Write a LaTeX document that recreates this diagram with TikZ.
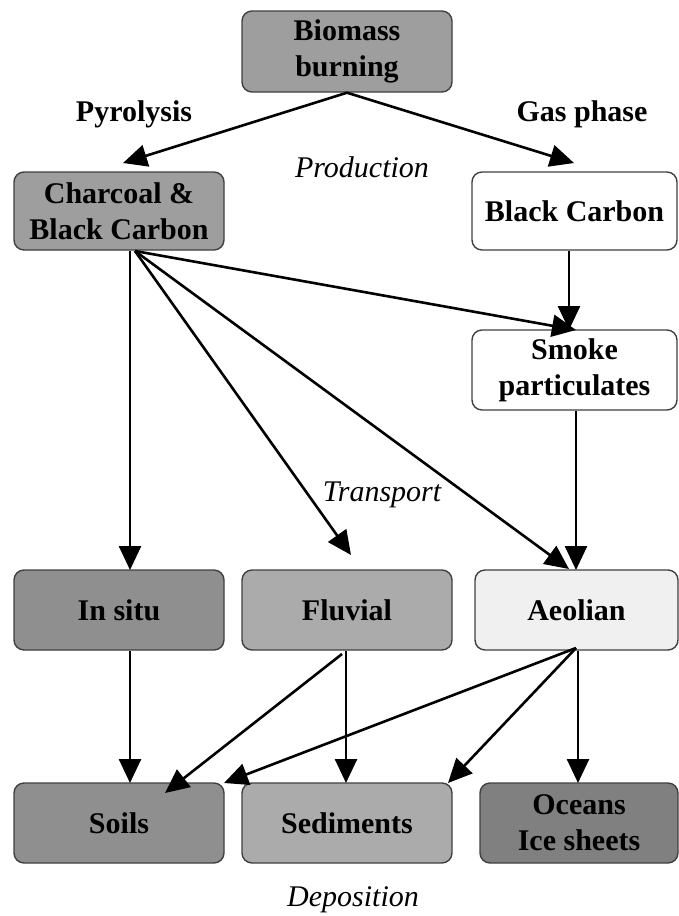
\documentclass[tikz,border=0pt]{standalone}
\usepackage{fontspec}
\setmainfont{Liberation Serif}
\usetikzlibrary{arrows.meta,calc}
\begin{document}
\begin{tikzpicture}[x=1pt,y=-1pt,
  box/.style={draw=black!75,line width=1.4pt,rounded corners=10pt,align=center,
    font=\fontsize{30}{36}\selectfont\bfseries,inner sep=0pt},
  arr/.style={line width=2.6pt,-{Triangle[length=24pt,width=22pt]}},
  lab/.style={font=\fontsize{30}{36}\selectfont\bfseries},
  ital/.style={font=\fontsize{30}{36}\selectfont\itshape}]
\useasboundingbox (0,0) rectangle (679,916);
\definecolor{gA}{gray}{0.62}
\definecolor{gB}{gray}{0.56}
\definecolor{gC}{gray}{0.67}
\definecolor{gD}{gray}{0.94}
\definecolor{gE}{gray}{0.50}
% boxes
\node[box,fill=gA,minimum width=210pt,minimum height=81pt] (bio) at (347,51.5) {Biomass\\burning};
\node[box,fill=gA,minimum width=210pt,minimum height=78pt] (char) at (119,211) {Charcoal \&\\Black Carbon};
\node[box,fill=white,minimum width=205pt,minimum height=78pt] (bc) at (574.5,211) {Black Carbon};
\node[box,fill=white,minimum width=205pt,minimum height=80pt] (smoke) at (574.5,370) {Smoke\\particulates};
\node[box,fill=gB,minimum width=210pt,minimum height=80pt] (insitu) at (119,610) {In situ};
\node[box,fill=gC,minimum width=210pt,minimum height=80pt] (fluvial) at (347,610) {Fluvial};
\node[box,fill=gD,minimum width=203pt,minimum height=80pt] (aeolian) at (576.5,610) {Aeolian};
\node[box,fill=gB,minimum width=210pt,minimum height=80pt] (soils) at (119,823) {Soils};
\node[box,fill=gC,minimum width=210pt,minimum height=80pt] (sed) at (347,823) {Sediments};
\node[box,fill=gE,minimum width=198pt,minimum height=80pt] (oceans) at (579,823) {Oceans\\Ice sheets};
% labels
\node[lab] (pyr) at (134,114) {Pyrolysis};
\node[lab] (gas) at (582,114) {Gas phase};
\node[ital] (prod) at (362,167) {Production};
\node[ital] (trans) at (382,495) {Transport};
\node[ital] (dep) at (353,900) {Deposition};
% coordinates
\coordinate (cs) at (135,251);
\coordinate (tChar) at (123,163);
\coordinate (tBC) at (574,163);
\coordinate (tSm1) at (576,330);
\coordinate (tFl) at (351,555);
\coordinate (tAe) at (569,569);
\coordinate (sIn) at (130,251);
\coordinate (tIn) at (130,570);
\coordinate (sBC) at (569,251);
\coordinate (tSm2) at (569,330);
\coordinate (sSm) at (576,411);
\coordinate (tAe2) at (576,570);
\coordinate (sIn2) at (130,651);
\coordinate (tSo) at (130,783);
\coordinate (sFl) at (342,654);
\coordinate (tSo2) at (165,793);
\coordinate (sFl2) at (346,651);
\coordinate (tSe) at (346,783);
\coordinate (sAe) at (576,648);
\coordinate (tSo3) at (224,783);
\coordinate (tSe2) at (448,783);
\coordinate (sAe2) at (578,651);
\coordinate (tOc) at (578,783);
% arrows
\draw[arr] (bio.south) -- (tChar);
\draw[arr] (bio.south) -- (tBC);
\draw[arr] (sBC) -- (tSm2);
\draw[arr] (cs) -- (tSm1);
\draw[arr] (sIn) -- (tIn);
\draw[arr] (cs) -- (tFl);
\draw[arr] (cs) -- (tAe);
\draw[arr] (sSm) -- (tAe2);
\draw[arr] (sIn2) -- (tSo);
\draw[arr] (sFl) -- (tSo2);
\draw[arr] (sFl2) -- (tSe);
\draw[arr] (sAe) -- (tSo3);
\draw[arr] (sAe) -- (tSe2);
\draw[arr] (sAe2) -- (tOc);
\end{tikzpicture}
\end{document}
